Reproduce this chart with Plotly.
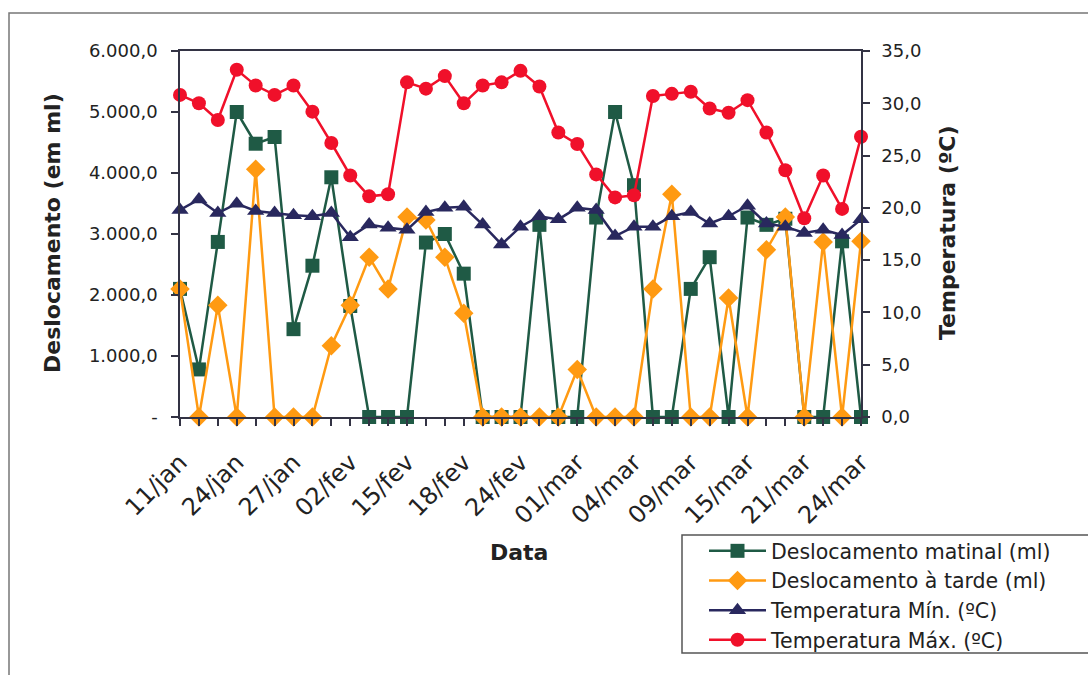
import plotly.graph_objects as go

# ---- data ----
date_labels = ["11/jan", "24/jan", "27/jan", "02/fev", "15/fev", "18/fev", "24/fev",
               "01/mar", "04/mar", "09/mar", "15/mar", "21/mar", "24/mar"]
label_step = 3

matinal = [2100, 780, 2870, 5000, 4480, 4590, 1440, 2480, 3930, 1820, 0, 0, 0,
           2860, 3000, 2350, 0, 0, 0, 3150, 0, 0, 3270, 5000, 3800, 0, 0,
           2100, 2620, 0, 3270, 3150, 3250, 0, 0, 2880, 0]
tarde = [2100, 0, 1830, 0, 4060, 0, 0, 0, 1170, 1830, 2620, 2100, 3280, 3230,
         2620, 1700, 0, 0, 0, 0, 0, 780, 0, 0, 0, 2100, 3650, 0, 0, 1950, 0,
         2740, 3280, 0, 2870, 0, 2880]
tmin = [19.8, 20.8, 19.5, 20.4, 19.7, 19.5, 19.3, 19.2, 19.5, 17.2, 18.4, 18.1,
        17.9, 19.6, 20.0, 20.1, 18.4, 16.5, 18.2, 19.2, 18.9, 20.0, 19.8, 17.3,
        18.2, 18.2, 19.2, 19.6, 18.5, 19.2, 20.2, 18.5, 18.2, 17.6, 17.9, 17.4, 18.9]
tmax = [30.8, 30.0, 28.4, 33.2, 31.7, 30.8, 31.7, 29.2, 26.2, 23.1, 21.1, 21.3,
        32.0, 31.4, 32.6, 30.0, 31.7, 32.0, 33.1, 31.6, 27.2, 26.1, 23.2, 21.0,
        21.2, 30.7, 30.9, 31.1, 29.5, 29.1, 30.3, 27.2, 23.6, 19.0, 23.1, 19.9, 26.8]

left_tickvals = [0, 1000, 2000, 3000, 4000, 5000, 6000]
left_ticktext = ["-", "1.000,0", "2.000,0", "3.000,0", "4.000,0", "5.000,0", "6.000,0"]
right_tickvals = [0, 5, 10, 15, 20, 25, 30, 35]
right_ticktext = ["0,0", "5,0", "10,0", "15,0", "20,0", "25,0", "30,0", "35,0"]

n = len(matinal)
x = list(range(n))
x_ticktext = []
for i in range(n):
    if i % label_step == 0 and i // label_step < len(date_labels):
        x_ticktext.append(date_labels[i // label_step])
    else:
        x_ticktext.append("")

FONT = "DejaVu Sans"
TXT = "#222222"
AX = "#333344"

C_GREEN = "#1f5a45"
C_ORANGE = "#ff9a12"
C_NAVY = "#29285e"
C_RED = "#f0102a"

fig = go.Figure()
fig.add_trace(go.Scatter(x=x, y=matinal, name="Deslocamento matinal (ml)", mode="lines+markers",
                         line=dict(color=C_GREEN, width=2.5),
                         marker=dict(symbol="square", size=14, color=C_GREEN),
                         cliponaxis=False))
fig.add_trace(go.Scatter(x=x, y=tarde, name="Deslocamento à tarde (ml)", mode="lines+markers",
                         line=dict(color=C_ORANGE, width=2.5),
                         marker=dict(symbol="diamond", size=15, color=C_ORANGE),
                         cliponaxis=False))
fig.add_trace(go.Scatter(x=x, y=tmin, name="Temperatura Mín. (ºC)", mode="lines+markers",
                         yaxis="y2", line=dict(color=C_NAVY, width=2.5),
                         marker=dict(symbol="triangle-up", size=15, color=C_NAVY),
                         cliponaxis=False))
fig.add_trace(go.Scatter(x=x, y=tmax, name="Temperatura Máx. (ºC)", mode="lines+markers",
                         yaxis="y2", line=dict(color=C_RED, width=2.5),
                         marker=dict(symbol="circle", size=14, color=C_RED),
                         cliponaxis=False))

L, R, T, B = 180, 227, 51, 258
W, H = 1088, 675
pw, ph = W - L - R, H - T - B

def px(xp):
    return (xp - L) / pw

def py(yp):
    return (H - B - yp) / ph

fig.update_layout(
    width=W, height=H,
    margin=dict(l=L, r=R, t=T, b=B, pad=0),
    paper_bgcolor="white", plot_bgcolor="white",
    font=dict(family=FONT, size=18, color=TXT),
    showlegend=True,
    legend=dict(x=px(704), y=py(531), xanchor="left", yanchor="top",
                bgcolor="rgba(0,0,0,0)", borderwidth=0,
                font=dict(family=FONT, size=20.5, color=TXT),
                itemwidth=57, tracegroupgap=0, traceorder="normal"),
    xaxis=dict(range=[0, n - 1], tickmode="array", tickvals=x, ticktext=x_ticktext,
               tickangle=-45, ticks="outside", ticklen=7, tickcolor=AX, tickwidth=1.5,
               ticklabelstandoff=13,
               showline=True, linecolor=AX, linewidth=1.5, mirror=True,
               showgrid=False, zeroline=False,
               tickfont=dict(family=FONT, size=24, color=TXT)),
    yaxis=dict(range=[0, 6000], tickmode="array", tickvals=left_tickvals, ticktext=left_ticktext,
               ticks="outside", ticklen=7, tickcolor=AX, tickwidth=1.5, ticklabelstandoff=10,
               showline=True, linecolor=AX, linewidth=1.5,
               showgrid=False, zeroline=False,
               tickfont=dict(family=FONT, size=18, color=TXT)),
    yaxis2=dict(range=[0, 35], tickmode="array", tickvals=right_tickvals, ticktext=right_ticktext,
                overlaying="y", side="right", anchor="x",
                ticks="outside", ticklen=7, tickcolor=AX, tickwidth=1.5, ticklabelstandoff=8,
                showline=True, linecolor=AX, linewidth=1.5,
                showgrid=False, zeroline=False,
                tickfont=dict(family=FONT, size=18, color=TXT)),
    shapes=[
        dict(type="rect", xref="paper", yref="paper",
             x0=px(9), x1=px(1100), y0=py(690), y1=py(13),
             line=dict(color="#777777", width=1.5), fillcolor="rgba(0,0,0,0)",
             layer="below"),
        dict(type="rect", xref="paper", yref="paper",
             x0=px(682), x1=px(1100), y0=py(653), y1=py(535),
             line=dict(color="#555555", width=1.5), fillcolor="white",
             layer="below"),
    ],
    annotations=[
        dict(text="<b>Deslocamento (em ml)</b>", xref="paper", yref="paper",
             x=px(52), y=py(233), xanchor="center", yanchor="middle",
             textangle=-90, showarrow=False, font=dict(family=FONT, size=22, color=TXT)),
        dict(text="<b>Temperatura (ºC)</b>", xref="paper", yref="paper",
             x=px(947), y=py(233), xanchor="center", yanchor="middle",
             textangle=-90, showarrow=False, font=dict(family=FONT, size=22, color=TXT)),
        dict(text="<b>Data</b>", xref="paper", yref="paper",
             x=px(519), y=py(552), xanchor="center", yanchor="middle",
             showarrow=False, font=dict(family=FONT, size=22, color=TXT)),
    ],
)

fig.write_html("out.html")
